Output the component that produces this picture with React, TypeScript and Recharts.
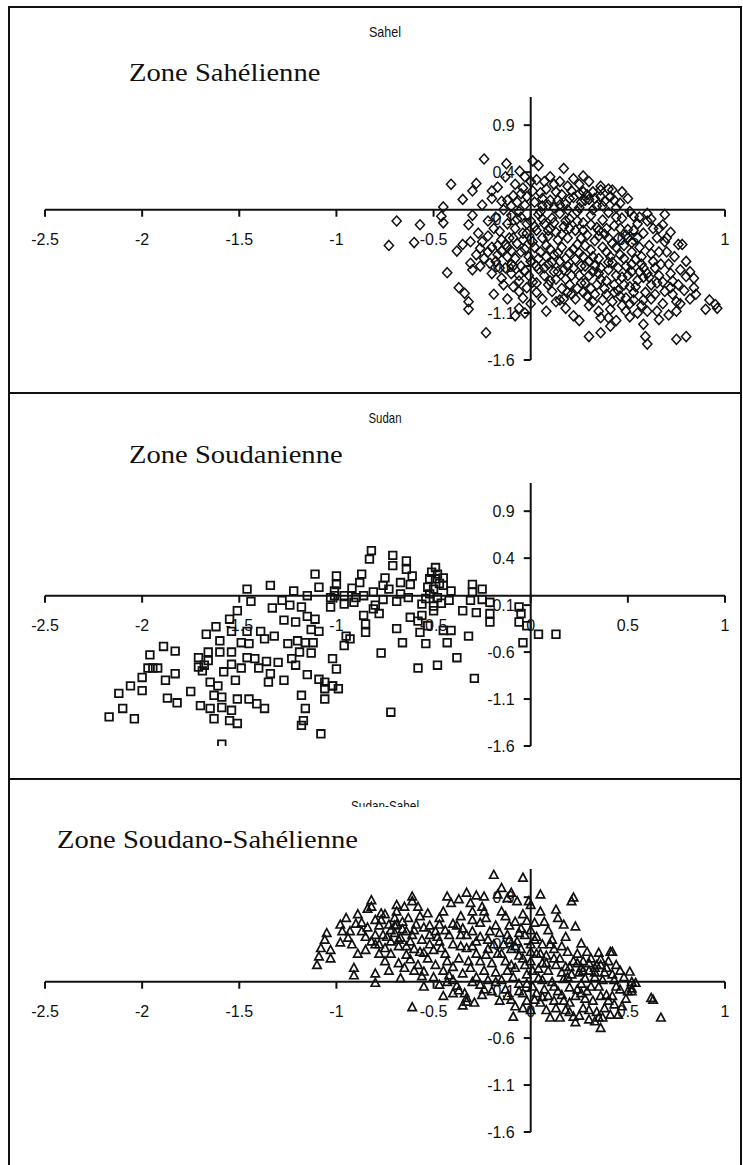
import React from "react";
import { ScatterChart, Scatter, XAxis, YAxis, ReferenceLine, ReferenceDot } from "recharts";

// ---- data -------------------------------------------------------------

const xTicks = [-2.5, -2, -1.5, -1, -0.5, 0, 0.5, 1];
const yTicks = [-1.6, -1.1, -0.6, -0.1, 0.4, 0.9];
const xDomain: [number, number] = [-2.5, 1];
const yDomain: [number, number] = [-1.6, 1.2];

const panelTitles = ["Sahel", "Sudan", "Sudan-Sahel"];
const zoneLabels = ["Zone Sahélienne", "Zone Soudanienne", "Zone Soudano-Sahélienne"];

// Sahel zone scores (x, y)
const sahelPoints: number[][] = [
  [-0.73, -0.38], [-0.69, -0.12], [-0.6, -0.35], [-0.57, -0.16], [-0.45, 0.03], [-0.46, -0.07], [-0.45, -0.14],
  [-0.41, 0.27], [-0.35, 0.11], [-0.28, 0.28], [-0.24, 0.54], [-0.17, 0.24], [-0.15, 0.09], [-0.125, 0.49],
  [-0.1, 0.04], [-0.08, 0.27], [-0.057, 0.41], [-0.04, 0.23], [-0.09, 0.15], [-0.05, 0.17], [-0.02, 0.14],
  [0.01, 0.52], [0.04, 0.47], [0.1, 0.35], [-0.32, -0.16], [-0.27, -0.25], [-0.22, -0.28], [-0.38, -0.44],
  [-0.35, -0.37], [-0.31, -0.34], [-0.26, -0.41], [-0.43, -0.67], [-0.31, -0.57], [-0.3, -0.64], [-0.26, -0.6],
  [-0.21, -0.57], [-0.37, -0.83], [-0.34, -0.89], [-0.32, -0.98], [-0.32, -1.06], [-0.14, -0.8], [-0.06, -0.87],
  [-0.04, -0.94], [-0.06, -1.05], [-0.03, -1.1], [-0.23, -1.31], [-0.17, -0.48], [-0.12, -0.5], [-0.1, -0.58],
  [-0.16, -0.23], [-0.13, -0.37], [-0.11, -0.3],
  [0.17, 0.44], [0.12, 0.27], [0.13, 0.19], [0.19, 0.25], [0.25, 0.27], [0.27, 0.19], [0.32, 0.19], [0.36, 0.21],
  [0.42, 0.21], [0.5, 0.12], [0.44, 0.02], [0.53, -0.07], [0.6, -0.04], [0.6, -0.12], [0.69, -0.05], [0.68, -0.16],
  [0.7, -0.3], [0.69, -0.34], [0.76, -0.37], [0.78, -0.37], [0.8, -0.55], [0.82, -0.66], [0.8, -0.71], [0.84, -0.73],
  [0.84, -0.83], [0.73, -0.76], [0.72, -0.83], [0.75, -0.98], [0.75, -1.08], [0.92, -0.96], [0.95, -1.01],
  [0.9, -1.06], [0.96, -1.05], [0.75, -1.38], [0.8, -1.35], [0.58, -1.22], [0.59, -1.35], [0.6, -1.43],
  [0.3, -1.35], [0.36, -1.31], [0.41, -1.24], [0.4, -1.15], [0.22, -1.13], [0.18, -1.05], [0.15, -0.96],
  [0.1, -0.76], [0.11, -0.87], [0.13, -0.98], [0.49, -1.08], [0.51, -1.14], [0.65, -1.08], [0.66, -1.17],
  [0.32, -0.98], [0.35, -1.08], [0.36, -1.15],
  [0.02, 0.08], [0.06, 0.12], [0.09, 0.05], [0.14, 0.1], [0.18, 0.06], [0.22, 0.13], [0.26, 0.08], [0.3, 0.11],
  [0.34, 0.04], [0.38, 0.09], [0.41, 0.14], [0.46, 0.07], [0.05, 0.18], [0.16, 0.16], [0.29, 0.16], [0.08, 0.22],
  [0.21, 0.2], [-0.05, -0.08], [0.0, -0.12], [0.04, -0.05], [0.07, -0.15], [0.11, -0.09], [0.15, -0.04],
  [0.17, -0.18], [0.2, -0.1], [0.24, -0.02], [0.27, -0.14], [0.31, -0.06], [0.34, -0.19], [0.37, -0.11],
  [0.4, -0.03], [0.43, -0.17], [0.47, -0.09], [0.5, -0.21], [0.55, -0.15], [0.58, -0.25], [0.63, -0.2],
  [0.65, -0.3], [-0.08, -0.2], [-0.02, -0.25], [0.03, -0.22], [0.09, -0.28], [0.13, -0.24], [0.19, -0.3],
  [0.23, -0.22], [0.29, -0.27], [0.33, -0.33], [0.38, -0.26], [0.45, -0.3], [0.52, -0.35], [0.56, -0.4],
  [0.61, -0.38], [-0.2, -0.4], [-0.15, -0.44], [-0.07, -0.36], [-0.03, -0.42], [0.01, -0.34], [0.05, -0.45],
  [0.08, -0.38], [0.12, -0.48], [0.16, -0.4], [0.2, -0.46], [0.24, -0.37], [0.27, -0.5], [0.31, -0.43],
  [0.35, -0.52], [0.39, -0.45], [0.42, -0.56], [0.46, -0.48], [0.49, -0.6], [0.54, -0.53], [0.58, -0.62],
  [0.63, -0.55], [0.66, -0.45], [0.71, -0.58], [0.74, -0.5], [-0.18, -0.55], [-0.13, -0.62], [-0.08, -0.52],
  [-0.05, -0.6], [0.0, -0.55], [0.04, -0.63], [0.09, -0.58], [-0.2, -0.68], [-0.15, -0.73], [-0.1, -0.68],
  [-0.06, -0.76], [-0.01, -0.7], [0.03, -0.78], [0.07, -0.7], [0.14, -0.66], [0.18, -0.74], [0.22, -0.62],
  [0.25, -0.7], [0.28, -0.78], [0.32, -0.66], [0.36, -0.74], [0.4, -0.64], [0.43, -0.8], [0.47, -0.72],
  [0.51, -0.82], [0.55, -0.75], [0.59, -0.88], [0.62, -0.8], [0.66, -0.7], [0.69, -0.87], [0.77, -0.64],
  [0.79, -0.86], [0.03, -0.88], [0.06, -0.95], [0.19, -0.88], [0.23, -0.95], [0.27, -0.88], [0.3, -1.02],
  [0.39, -0.9], [0.42, -0.98], [0.46, -0.92], [0.53, -0.96], [0.57, -1.02], [0.62, -0.95], [0.68, -1.0],
  [0.71, -1.12], [0.82, -0.95], [0.85, -0.9], [0.44, -1.18], [0.25, -1.18], [0.55, -1.1], [0.08, -1.08],
  [0.0, -1.0], [-0.03, 0.05], [-0.06, -0.02], [0.0, 0.3], [-0.12, 0.1], [-0.18, -0.08], [-0.22, -0.12],
  [-0.25, 0.05], [-0.2, 0.12], [-0.3, -0.06], [-0.28, -0.48], [-0.24, -0.52], [-0.19, -0.9], [-0.12, -0.95],
  [-0.08, -1.13], [0.22, 0.33], [0.3, 0.3], [0.36, 0.25], [0.4, 0.22], [0.47, 0.19],
  [0.05, -0.02], [0.1, -0.2], [0.14, -0.32], [0.18, -0.12], [0.22, -0.42], [0.26, -0.3], [0.3, -0.55],
  [0.33, -0.6], [0.37, -0.4], [0.41, -0.5], [0.44, -0.4], [0.48, -0.38], [0.52, -0.45], [0.57, -0.5],
  [0.6, -0.68], [0.64, -0.62], [0.68, -0.77], [0.72, -0.68], [0.76, -0.8], [0.62, -0.47], [0.06, -0.3],
  [0.1, -0.42], [0.15, -0.55], [0.19, -0.6], [0.23, -0.53], [0.26, -0.6], [0.3, -0.7], [0.34, -0.8],
  [0.38, -0.84], [0.45, -0.86], [0.49, -0.94], [0.53, -0.88], [0.58, -0.96], [0.64, -0.9], [0.67, -0.58],
  [0.7, -0.45], [0.73, -0.9], [0.77, -1.0], [0.12, -0.66], [0.16, -0.84], [0.2, -0.8], [0.24, -0.84],
  [0.29, -0.92], [0.33, -0.9], [0.37, -0.96], [0.41, -1.06], [0.47, -1.02], [0.51, -1.0], [0.6, -1.08],
  [-0.02, -0.15], [0.02, -0.4], [-0.04, -0.32], [-0.1, -0.44], [-0.15, -0.32], [-0.19, -0.2], [-0.12, -0.15],
  [-0.07, -0.1], [-0.01, -0.5], [0.03, -0.6], [-0.02, -0.83], [-0.09, -0.82], [-0.16, -0.62], [-0.22, -0.45],
  [-0.25, -0.34], [0.06, 0.04], [0.12, 0.02], [0.19, 0.0], [0.25, 0.17], [0.32, 0.0], [0.36, 0.14],
  [0.44, -0.08], [0.51, -0.02], [0.56, -0.08], [0.62, -0.1], [0.66, -0.2], [0.72, -0.24], [0.55, -0.3],
  [0.49, -0.27], [0.08, -0.5], [0.18, -0.52], [0.28, -0.38], [0.35, -0.22], [0.4, -0.3], [0.45, -0.62],
  [0.5, -0.7], [0.56, -0.66], [0.52, -0.58], [-0.14, 0.0], [-0.1, -0.06], [-0.2, 0.2], [-0.3, 0.2],
  [-0.13, 0.35], [0.07, 0.3], [0.15, 0.3], [0.27, 0.36],
  [0.02, -0.18], [0.06, -0.1], [0.09, -0.22], [0.12, -0.14], [0.16, -0.26], [0.2, -0.2], [0.24, -0.12],
  [0.27, -0.22], [0.31, -0.16], [0.35, -0.28], [0.39, -0.2], [0.42, -0.36], [0.46, -0.2], [0.5, -0.3],
  [0.53, -0.22], [0.04, -0.52], [0.07, -0.62], [0.11, -0.56], [0.14, -0.46], [0.17, -0.64], [0.21, -0.7],
  [0.25, -0.46], [0.28, -0.6], [0.32, -0.5], [0.36, -0.62], [0.4, -0.56], [0.44, -0.7], [0.48, -0.52],
  [0.52, -0.66], [0.57, -0.58], [0.61, -0.72], [0.65, -0.78], [0.09, -0.8], [0.13, -0.74], [0.17, -0.95],
  [0.21, -0.9], [0.26, -0.78], [0.31, -0.84], [0.35, -0.68], [0.39, -0.76], [0.43, -0.88], [0.48, -0.8],
  [0.54, -0.82], [0.58, -0.72], [-0.05, -0.45], [-0.09, -0.6], [-0.03, -0.65], [0.01, -0.77], [-0.06, -0.7],
  [-0.12, -0.4], [-0.17, -0.38], [-0.04, -0.25], [-0.09, -0.3], [0.1, 0.1], [0.15, 0.05], [0.2, 0.12],
  [0.25, 0.02], [0.28, 0.1], [0.33, 0.12], [0.37, 0.04], [0.43, 0.1], [0.01, 0.2], [-0.03, 0.35],
  [0.03, 0.32], [-0.07, 0.08],
];

// Sudan zone scores (x, y)
const sudanPoints: number[][] = [
  [-1.11, 0.23], [-1.34, 0.11], [-1.46, 0.07], [-1.44, -0.06], [-1.22, 0.05], [-1.15, 0.0], [-1.09, 0.09],
  [-1.03, -0.02], [-1.03, -0.12], [-1.33, -0.13], [-1.51, -0.16], [-1.55, -0.25], [-1.27, -0.26], [-1.21, -0.28],
  [-1.15, -0.22], [-1.11, -0.25], [-1.62, -0.33], [-1.67, -0.41], [-1.54, -0.38], [-1.46, -0.38], [-1.39, -0.38],
  [-1.37, -0.46], [-1.32, -0.43], [-1.13, -0.36], [-1.09, -0.38], [-1.6, -0.48], [-1.49, -0.5], [-1.45, -0.51],
  [-1.25, -0.51], [-1.2, -0.48], [-1.16, -0.5], [-1.12, -0.5], [-1.89, -0.54], [-1.83, -0.59], [-1.96, -0.63],
  [-1.6, -0.6], [-1.54, -0.6], [-1.66, -0.6], [-1.19, -0.6], [-1.13, -0.61], [-1.23, -0.67], [-1.97, -0.77],
  [-1.945, -0.77], [-1.92, -0.77], [-1.71, -0.66], [-1.71, -0.76], [-1.66, -0.69], [-1.69, -0.8], [-1.68, -0.74],
  [-1.46, -0.66], [-1.42, -0.67], [-1.36, -0.7], [-1.3, -0.71], [-1.4, -0.77], [-1.49, -0.77], [-1.58, -0.81],
  [-1.54, -0.73], [-1.34, -0.83], [-1.35, -0.92], [-1.27, -0.9], [-1.21, -0.74], [-1.15, -0.84], [-1.09, -0.89],
  [-1.06, -0.92], [-1.02, -0.96], [-2.0, -0.87], [-2.06, -0.96], [-2.0, -1.01], [-2.12, -1.04], [-1.88, -0.9],
  [-1.83, -0.83], [-1.75, -1.02], [-1.65, -0.92], [-1.61, -0.96], [-1.63, -1.06], [-1.59, -1.08], [-1.52, -0.9],
  [-1.59, -1.19], [-1.54, -1.22], [-1.51, -1.1], [-1.45, -1.1], [-1.41, -1.15], [-1.37, -1.2], [-1.7, -1.17],
  [-1.65, -1.2], [-1.63, -1.31], [-1.55, -1.33], [-1.51, -1.36], [-2.1, -1.2], [-2.17, -1.29], [-2.04, -1.31],
  [-1.87, -1.09], [-1.82, -1.14], [-1.18, -1.06], [-1.16, -1.2], [-1.17, -1.33], [-1.18, -1.38], [-1.08, -1.47],
  [-1.59, -1.58], [-1.06, -0.99], [-1.06, -1.1],
  [-0.82, 0.48], [-0.83, 0.39], [-0.71, 0.43], [-0.71, 0.32], [-0.64, 0.37], [-0.64, 0.28], [-0.61, 0.21],
  [-1.0, 0.21], [-1.0, 0.12], [-0.87, 0.23], [-0.88, 0.14], [-0.75, 0.19], [-0.76, 0.11], [-0.49, 0.3],
  [-0.52, 0.18], [-0.49, 0.18], [-0.45, 0.19], [-0.45, 0.11], [-0.53, 0.09], [-0.5, 0.07], [-0.62, 0.12],
  [-0.67, 0.14], [-0.73, 0.07], [-0.81, 0.04], [-0.86, 0.0], [-0.91, -0.07], [-0.96, 0.0], [-0.96, -0.09],
  [-1.01, 0.05], [-1.01, 0.0], [-0.3, 0.12], [-0.25, 0.07], [-0.3, 0.04], [-0.31, -0.05], [-0.25, -0.04],
  [-0.21, -0.07], [-0.35, -0.16], [-0.28, -0.18], [-0.21, -0.19], [-0.21, -0.28], [-0.41, 0.05], [-0.42, -0.05],
  [-0.5, -0.11], [-0.5, -0.16], [-0.56, -0.09], [-0.56, -0.21], [-0.62, -0.23], [-0.58, -0.27], [-0.57, -0.39],
  [-0.53, -0.32], [-0.54, -0.51], [-0.66, -0.5], [-0.69, -0.35], [-0.45, -0.37], [-0.41, -0.37], [-0.43, -0.5],
  [-0.32, -0.43], [-0.77, -0.61], [-0.58, -0.77], [-0.48, -0.74], [-0.38, -0.66], [-0.29, -0.88], [-0.72, -1.24],
  [-0.06, -0.12], [-0.05, -0.19], [-0.06, -0.28], [-0.02, -0.32], [0.04, -0.41], [0.13, -0.41], [-0.04, -0.5],
  [-0.86, -0.21], [-0.85, -0.3], [-0.85, -0.39], [-0.95, -0.43], [-0.93, -0.46], [-0.96, -0.53], [-0.78, -0.19],
  [-0.81, -0.14], [-1.02, -0.67], [-1.0, -0.78], [-1.02, -0.96], [-0.99, -0.99], [-0.48, 0.23], [-0.51, 0.25],
  [-0.47, 0.13], [-0.52, 0.02], [-0.48, -0.02], [-0.46, -0.08], [-0.54, -0.03], [-0.92, 0.08], [-0.9, -0.02],
  [-1.24, -0.1], [-1.18, -0.12], [-1.28, -0.05], [-0.67, 0.02], [-0.69, -0.06], [-0.63, -0.02], [-0.76, -0.04],
  [-0.8, -0.1],
];

// Sudan-Sahel zone scores (x, y)
const sudanSahelPoints: number[][] = [
  [-0.19, 1.14], [-0.04, 1.11], [-0.82, 0.87], [-0.82, 0.8], [-0.61, 0.91], [-0.61, 0.86], [-0.69, 0.82],
  [-0.69, 0.75], [-0.77, 0.73], [-0.77, 0.66], [-0.53, 0.73], [-0.43, 0.91], [-0.41, 0.84], [-0.37, 0.88],
  [-0.31, 0.84], [-0.3, 0.75], [-0.25, 0.8], [-0.24, 0.91], [-0.24, 0.75], [-0.89, 0.72], [-0.87, 0.63],
  [-0.98, 0.61], [-0.97, 0.54], [-0.93, 0.54], [-0.94, 0.47], [-0.87, 0.54], [-1.05, 0.52], [-1.06, 0.45],
  [-1.08, 0.36], [-1.03, 0.34], [-1.09, 0.27], [-1.03, 0.25], [-1.1, 0.18], [-0.91, 0.15], [-0.91, 0.07],
  [-0.8, 0.09], [-0.8, -0.01], [-0.67, 0.04], [-0.55, 0.11], [-0.55, -0.05], [-0.75, 0.22], [-0.8, 0.4],
  [-0.85, 0.34], [-0.82, 0.43], [-0.76, 0.5], [-0.73, 0.61], [-0.75, 0.72], [-0.69, 0.61], [-0.66, 0.64],
  [-0.64, 0.54], [-0.61, 0.5], [-0.67, 0.47], [-0.72, 0.43], [-0.75, 0.36], [-0.62, 0.43], [-0.59, 0.61],
  [-0.57, 0.32], [-0.62, 0.24], [-0.64, 0.29], [-0.47, 0.68], [-0.47, 0.61], [-0.49, 0.54], [-0.47, 0.43],
  [-0.5, 0.34], [-0.55, 0.31], [-0.53, 0.25], [-0.49, 0.18], [-0.43, 0.22], [-0.4, 0.16], [-0.37, 0.25],
  [-0.33, 0.36], [-0.33, 0.5], [-0.35, 0.57], [-0.3, 0.54], [-0.28, 0.43], [-0.3, 0.66], [-0.26, 0.63],
  [-0.23, 0.68], [-0.21, 0.54], [-0.19, 0.4], [-0.23, 0.29], [-0.26, 0.22], [-0.31, 0.15], [-0.35, 0.09],
  [-0.42, 0.07], [-0.43, 0.0], [-0.37, -0.09], [-0.33, -0.17], [-0.26, -0.03], [-0.25, -0.14],
  [0.05, 0.93], [-0.01, 0.86], [0.0, 0.82], [0.13, 0.77], [0.21, 0.86], [0.17, 0.61], [0.23, 0.59], [0.07, 0.64],
  [0.02, 0.63], [-0.17, 0.93], [-0.12, 0.89], [-0.07, 0.86], [-0.15, 0.75], [-0.08, 0.64], [-0.05, 0.57],
  [-0.07, 0.43], [0.26, 0.41], [0.29, 0.32], [0.35, 0.31], [0.42, 0.32], [0.36, 0.18], [0.33, 0.15], [0.26, 0.15],
  [0.43, 0.02], [0.51, 0.11], [0.52, 0.0], [0.52, -0.07], [0.62, -0.17], [0.63, -0.19], [0.67, -0.38],
  [0.37, -0.38], [0.36, -0.49], [0.22, -0.37], [0.23, -0.43], [0.1, -0.38], [-0.09, -0.37], [0.02, -0.19],
  [-0.33, -0.21], [-0.1, -0.19], [0.54, -0.01], [0.52, -0.1], [0.41, 0.32], [0.22, 0.9], [-0.61, -0.27],
  [-0.17, 0.3], [-0.13, 0.22], [-0.1, 0.35], [-0.06, 0.28], [-0.03, 0.18], [0.0, 0.4], [0.03, 0.3], [0.06, 0.2],
  [0.09, 0.12], [0.12, 0.35], [0.15, 0.25], [0.18, 0.16], [0.21, 0.08], [0.24, 0.3], [0.27, 0.22], [0.3, 0.12],
  [0.33, 0.05], [0.38, 0.1], [0.4, 0.22], [0.46, 0.12], [0.48, 0.05], [-0.18, 0.1], [-0.15, 0.02], [-0.12, 0.12],
  [-0.09, 0.05], [-0.06, -0.02], [-0.02, 0.08], [0.01, -0.05], [0.04, 0.04], [0.07, -0.08], [0.11, 0.0],
  [0.14, -0.1], [0.17, 0.03], [0.2, -0.06], [0.23, -0.15], [0.26, -0.02], [0.29, -0.1], [0.32, -0.2],
  [0.35, -0.05], [0.39, -0.14], [0.43, -0.24], [0.46, -0.08], [0.49, -0.18], [-0.2, -0.1], [-0.16, -0.2],
  [-0.13, -0.08], [-0.08, -0.26], [-0.04, -0.12], [0.0, -0.3], [0.05, -0.22], [0.09, -0.15], [0.13, -0.28],
  [0.17, -0.2], [0.2, -0.32], [0.27, -0.28], [0.3, -0.4], [0.34, -0.32], [0.41, -0.35], [0.15, -0.38],
  [-0.22, 0.45], [-0.16, 0.52], [-0.11, 0.6], [-0.03, 0.5], [0.03, 0.48], [0.09, 0.55], [0.11, 0.45],
  [0.18, 0.48], [0.14, 0.68], [-0.13, 0.7], [-0.5, 0.05], [-0.47, -0.03], [-0.45, 0.12], [-0.4, 0.02],
  [-0.38, -0.04], [-0.28, 0.05], [-0.22, 0.02], [-0.24, -0.08], [-0.29, -0.22], [-0.35, -0.25], [-0.4, -0.12],
  [-0.45, -0.15], [-0.58, 0.18], [-0.56, 0.06], [-0.6, 0.12], [-0.52, 0.4], [-0.44, 0.3], [-0.4, 0.4],
  [-0.38, 0.6], [-0.45, 0.75], [-0.36, 0.7], [-0.28, 0.92], [-0.33, 0.95], [-0.1, 0.95], [-0.15, 1.0],
  [-0.95, 0.68], [-0.9, 0.62], [-0.84, 0.58], [-0.8, 0.66], [-0.7, 0.68], [-0.65, 0.8], [-0.57, 0.7],
  [-0.58, 0.8], [-0.85, 0.48], [-0.8, 0.5], [-0.7, 0.52], [-0.68, 0.38], [-0.92, 0.4], [-0.98, 0.42],
  [-0.89, 0.3], [-0.78, 0.3], [-0.72, 0.3], [-0.65, 0.15], [-0.73, 0.12], [-0.68, 0.2],
  [-0.05, 0.35], [0.0, 0.22], [0.04, 0.14], [0.08, 0.28], [0.1, 0.4], [0.13, 0.18], [0.16, 0.1], [0.19, 0.32],
  [0.22, 0.22], [0.25, 0.1], [0.28, 0.04], [0.31, 0.25], [0.34, 0.18], [0.37, 0.02], [0.42, 0.08], [0.44, 0.18],
  [-0.08, 0.15], [-0.11, 0.45], [-0.14, 0.4], [-0.02, 0.65], [0.05, 0.75], [-0.04, 0.72], [0.0, 0.55],
  [0.06, 0.4], [-0.02, -0.02], [0.03, -0.12], [0.06, 0.02], [0.12, -0.05], [0.16, -0.14], [0.19, 0.05],
  [0.24, -0.08], [0.28, -0.18], [0.31, -0.05], [0.36, -0.15], [0.4, -0.2], [0.44, -0.05], [0.47, -0.26],
  [0.38, -0.28], [0.33, -0.42], [0.25, -0.36], [0.18, -0.3], [0.08, -0.3], [-0.02, -0.2], [-0.06, -0.1],
  [-0.2, 0.2], [-0.24, 0.12], [-0.28, 0.3], [-0.32, 0.22], [-0.36, 0.38], [-0.42, 0.5], [-0.46, 0.36],
  [-0.52, 0.5], [-0.55, 0.58], [-0.6, 0.35], [-0.63, 0.68], [-0.72, 0.55], [-0.78, 0.6], [-0.84, 0.78],
  [-0.66, 0.56],
  [-0.15, 0.3], [-0.12, 0.5], [-0.08, 0.38], [-0.04, 0.25], [0.0, 0.32], [0.02, 0.45], [0.05, 0.3], [0.08, 0.2],
  [-0.18, 0.6], [-0.1, 0.18], [-0.06, 0.52], [0.01, 0.12], [0.12, 0.25], [0.16, 0.38], [0.2, 0.16], [0.24, 0.2],
  [0.27, 0.12], [0.3, 0.2], [0.33, 0.1], [0.36, 0.24], [0.39, 0.15], [-0.7, 0.6], [-0.74, 0.48], [-0.78, 0.4],
  [-0.68, 0.45], [-0.64, 0.38], [-0.6, 0.55], [-0.56, 0.45], [-0.52, 0.6], [-0.48, 0.48], [-0.44, 0.55],
  [-0.4, 0.62], [-0.36, 0.5], [-0.26, 0.48], [-0.22, 0.35], [-0.3, 0.38], [0.12, -0.2], [0.2, -0.22],
  [0.26, -0.12], [0.3, -0.3], [0.35, -0.38], [0.42, -0.15], [0.45, -0.35], [0.5, -0.1], [-0.04, -0.28],
  [0.06, -0.16], [-0.12, -0.15], [-0.18, 0.0], [-0.3, 0.0], [-0.34, -0.12],
];

// ---- drawing ----------------------------------------------------------

const PAGE_W = 743;
const PAGE_H = 1165;
const PANEL_LEFT = 8;
const PANEL_TOP = 6;
const PANEL_W = 734;
const PANEL_H = 386;
const INK = "#111";
const TICK_FONT = "'Liberation Sans', Arial, sans-serif";
const SERIF = "'Liberation Serif', 'Times New Roman', serif";

type MarkerKind = "diamond" | "square" | "triangle";

const markerPath = (kind: MarkerKind, cx: number, cy: number): string => {
  if (kind === "diamond") {
    return `M${cx},${cy - 5} L${cx + 4.6},${cy} L${cx},${cy + 5} L${cx - 4.6},${cy} Z`;
  }
  if (kind === "square") {
    return `M${cx - 3.8},${cy - 3.8} h7.6 v7.6 h-7.6 Z`;
  }
  return `M${cx},${cy - 4.2} L${cx + 4.2},${cy + 3.6} L${cx - 4.2},${cy + 3.6} Z`;
};

const markerStroke: Record<MarkerKind, number> = { diamond: 1.5, square: 1.8, triangle: 1.7 };

const makeMarker = (kind: MarkerKind) => (props: any) => {
  const { cx, cy } = props;
  if (cx == null || cy == null) return <g />;
  return <path d={markerPath(kind, cx, cy)} fill="none" stroke={INK} strokeWidth={markerStroke[kind]} />;
};

const xTickShape = (label: string) => (props: any) => {
  const { cx, cy } = props;
  return (
    <g>
      <line x1={cx} y1={cy} x2={cx} y2={cy + 7} stroke={INK} strokeWidth={2} />
      <text x={cx} y={cy + 35} textAnchor="middle" fontFamily={TICK_FONT} fontSize={16} fill={INK}>
        {label}
      </text>
    </g>
  );
};

const yTickShape = (label: string) => (props: any) => {
  const { cx, cy } = props;
  return (
    <g>
      <line x1={cx - 7} y1={cy} x2={cx} y2={cy} stroke={INK} strokeWidth={2} />
      <text x={cx - 16} y={cy + 6} textAnchor="end" fontFamily={TICK_FONT} fontSize={16} fill={INK}>
        {label}
      </text>
    </g>
  );
};

const fmt = (v: number) => String(v);

// Placement of the small chart title and the zone caption inside each panel
const titleWidths = [32, 33, 68];
const titleBaseline = [31, 31, 33];
const zoneX = [121, 121, 49];
const zoneBaseline = [75, 71, 70];
const zoneStretch = 1.1;

interface PanelProps {
  index: number;
  points: number[][];
  kind: MarkerKind;
}

function Panel({ index, points, kind }: PanelProps) {
  const data = points.map(([x, y]) => ({ x, y }));
  return (
    <div
      style={{
        position: "absolute",
        left: PANEL_LEFT,
        top: PANEL_TOP + index * PANEL_H,
        width: PANEL_W,
        height: PANEL_H,
      }}
    >
      <div style={{ position: "absolute", left: 0, top: 0 }}>
        <ScatterChart width={PANEL_W} height={PANEL_H} margin={{ top: 91, right: 17, bottom: 32, left: 37 }}>
          <XAxis type="number" dataKey="x" domain={xDomain} allowDataOverflow hide />
          <YAxis type="number" dataKey="y" domain={yDomain} allowDataOverflow hide />
          <ReferenceLine y={0} stroke={INK} strokeWidth={2} />
          <ReferenceLine x={0} stroke={INK} strokeWidth={2} />
          {xTicks.map((t) => (
            <ReferenceDot key={`xt${t}`} x={t} y={0} r={0} shape={xTickShape(fmt(t))} />
          ))}
          {yTicks.map((t) => (
            <ReferenceDot key={`yt${t}`} x={0} y={t} r={0} shape={yTickShape(fmt(t))} />
          ))}
          <Scatter data={data} isAnimationActive={false} shape={makeMarker(kind)} />
        </ScatterChart>
      </div>
      <svg width={PANEL_W} height={PANEL_H} style={{ position: "absolute", left: 0, top: 0, pointerEvents: "none" }}>
        <text
          x={377}
          y={titleBaseline[index]}
          textAnchor="middle"
          fontFamily={TICK_FONT}
          fontSize={15}
          textLength={titleWidths[index]}
          lengthAdjust="spacingAndGlyphs"
          fill={INK}
        >
          {panelTitles[index]}
        </text>
        {index === 2 && <rect x={40} y={29} width={400} height={48} fill="#fff" />}
        <text
          transform={`translate(${zoneX[index]},${zoneBaseline[index]}) scale(${zoneStretch},1)`}
          fontFamily={SERIF}
          fontSize={26}
          fill={INK}
        >
          {zoneLabels[index]}
        </text>
      </svg>
    </div>
  );
}

export default function App() {
  const kinds: MarkerKind[] = ["diamond", "square", "triangle"];
  const series = [sahelPoints, sudanPoints, sudanSahelPoints];
  const rightEdge = PANEL_LEFT + PANEL_W - 1;
  return (
    <div style={{ position: "relative", width: PAGE_W, height: PAGE_H, overflow: "hidden", background: "#fff" }}>
      <style>{"html,body{margin:0;padding:0;overflow:hidden;background:#fff}"}</style>
      {series.map((pts, i) => (
        <Panel key={panelTitles[i]} index={i} points={pts} kind={kinds[i]} />
      ))}
      <svg width={PAGE_W} height={PAGE_H} style={{ position: "absolute", left: 0, top: 0, pointerEvents: "none" }}>
        <g stroke={INK} strokeWidth={2}>
          <line x1={PANEL_LEFT + 1} y1={PANEL_TOP} x2={PANEL_LEFT + 1} y2={PAGE_H} />
          <line x1={rightEdge} y1={PANEL_TOP} x2={rightEdge} y2={PAGE_H} />
          {[0, 1, 2].map((i) => (
            <line
              key={i}
              x1={PANEL_LEFT}
              y1={PANEL_TOP + 1 + i * PANEL_H}
              x2={PANEL_LEFT + PANEL_W}
              y2={PANEL_TOP + 1 + i * PANEL_H}
            />
          ))}
        </g>
      </svg>
    </div>
  );
}
